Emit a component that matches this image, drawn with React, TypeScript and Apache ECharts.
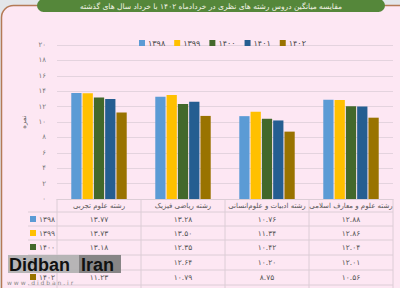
import React, { useEffect, useRef } from "react";
import * as echarts from "echarts";

const categories = [
  "رشته علوم تجربی",
  "رشته ریاضی فیزیک",
  "رشته ادبیات و علوم‌انسانی",
  "رشته علوم و معارف اسلامی",
];
const years = ["1398", "1399", "1400", "1401", "1402"];
const v1398 = [13.77, 13.28, 10.76, 12.88];
const v1399 = [13.73, 13.5, 11.34, 12.86];
const v1400 = [13.18, 12.35, 10.42, 12.04];
const v1401 = [13.0, 12.64, 10.2, 12.01];
const v1402 = [11.23, 10.79, 8.75, 10.56];
const seriesValues = [v1398, v1399, v1400, v1401, v1402];
const colors = ["#5B9BD5", "#FFC000", "#43682B", "#255E91", "#997300"];
const titleText =
  "مقایسه میانگین دروس رشته های نظری در خردادماه ۱۴۰۲ با خرداد سال های گذشته";
const yName = "نمره";

const toFa = (s: string | number) =>
  String(s).replace(/[0-9]/g, (d) => "۰۱۲۳۴۵۶۷۸۹"[Number(d)]);

const FONT = "DejaVu Sans";

export default function App() {
  const ref = useRef<HTMLDivElement>(null);
  useEffect(() => {
    document.body.style.margin = "0";
    if (!ref.current) return;
    const chart = echarts.init(ref.current, null, { renderer: "svg" });

    const gridLeft = 57;
    const gridRight = 393;
    const gridTop = 45;
    const gridBottom = 199;
    const catW = (gridRight - gridLeft) / categories.length;
    const rowCenters = [219, 233, 247, 262, 277];
    const lineColor = "#dccdd6";

    const extraAxes = seriesValues.map((vals, r) => ({
      type: "category" as const,
      data: categories,
      position: "bottom" as const,
      offset: rowCenters[r] - gridBottom - 4,
      axisLine: { show: false },
      axisTick: { show: false },
      splitLine: { show: false },
      axisLabel: {
        margin: 0,
        fontSize: 7.5,
        fontFamily: FONT,
        color: "#555",
        interval: 0,
        formatter: (_v: string, i: number) => toFa(vals[i].toFixed(2)),
      },
    }));

    const graphics: any[] = [];
    graphics.push({
      type: "rect",
      z: -10,
      shape: { x: 1.5, y: 5.5, width: 430, height: 320, r: 12 },
      style: { fill: "#fde7f3", stroke: "#b47a56", lineWidth: 1.5 },
      silent: true,
    });
    graphics.push({
      type: "rect",
      z: 5,
      shape: { x: 37, y: -1, width: 348, height: 13, r: 6.5 },
      style: { fill: "#55873a" },
    });
    graphics.push({
      type: "text",
      z: 6,
      x: 211,
      y: 6,
      style: {
        text: titleText,
        fill: "#f4f4e8",
        font: `7.5px "${FONT}"`,
        align: "center",
        verticalAlign: "middle",
      },
    });
    const hLines = [212, 226, 240, 255, 270, 285];
    hLines.forEach((y) => {
      graphics.push({
        type: "line",
        shape: { x1: 28, y1: y, x2: gridRight, y2: y },
        style: { stroke: lineColor, lineWidth: 1 },
      });
    });
    for (let i = 0; i <= categories.length; i++) {
      const x = gridLeft + catW * i;
      graphics.push({
        type: "line",
        shape: { x1: x, y1: gridBottom, x2: x, y2: 290 },
        style: { stroke: lineColor, lineWidth: 1 },
      });
    }
    years.forEach((yr, r) => {
      graphics.push({
        type: "rect",
        shape: { x: 30, y: rowCenters[r] - 3, width: 6, height: 6 },
        style: { fill: colors[r] },
      });
      graphics.push({
        type: "text",
        x: 55,
        y: rowCenters[r],
        style: {
          text: toFa(yr),
          fill: "#555",
          font: `7.5px "${FONT}"`,
          align: "right",
          verticalAlign: "middle",
        },
      });
    });
    // watermark
    graphics.push({
      type: "rect",
      z: 20,
      shape: { x: 8, y: 255, width: 71, height: 18 },
      style: { fill: "rgba(175,175,175,0.9)" },
    });
    graphics.push({
      type: "rect",
      z: 20,
      shape: { x: 79, y: 255, width: 42, height: 18 },
      style: { fill: "rgba(125,125,125,0.92)" },
    });
    graphics.push({
      type: "text",
      z: 21,
      x: 9,
      y: 264.5,
      style: {
        text: "Didban",
        fill: "#111",
        font: `bold 18px "Liberation Sans"`,
        verticalAlign: "middle",
      },
    });
    graphics.push({
      type: "text",
      z: 21,
      x: 81,
      y: 264.5,
      style: {
        text: "Iran",
        fill: "#111",
        font: `bold 18px "Liberation Sans"`,
        verticalAlign: "middle",
      },
    });
    graphics.push({
      type: "text",
      z: 21,
      x: 7,
      y: 282,
      style: {
        text: "w w w . d i d b a n . i r",
        fill: "#888",
        font: `6px "${FONT}"`,
        verticalAlign: "middle",
      },
    });

    chart.setOption({
      animation: false,
      backgroundColor: "#e3e6ea",
      color: colors,
      legend: {
        top: 34,
        left: 134,
        itemWidth: 6,
        itemHeight: 6,
        itemGap: 9,
        icon: "rect",
        textStyle: { fontSize: 8, fontFamily: FONT, color: "#444", padding: [0, 0, 0, -2] },
        formatter: (n: string) => toFa(n),
        data: years,
      },
      grid: {
        left: gridLeft,
        right: 400 - gridRight,
        top: gridTop,
        bottom: 288 - gridBottom,
      },
      xAxis: [
        {
          type: "category",
          data: categories,
          position: "bottom",
          axisLine: { show: true, lineStyle: { color: lineColor } },
          axisTick: { show: false },
          axisLabel: {
            margin: 3,
            fontSize: 7,
            fontFamily: FONT,
            color: "#555",
            interval: 0,
          },
        },
        ...extraAxes,
      ],
      yAxis: {
        type: "value",
        min: 0,
        max: 20,
        interval: 2,
        name: yName,
        nameLocation: "middle",
        nameGap: 23,
        nameRotate: 90,
        nameTextStyle: { fontSize: 7, fontFamily: FONT, color: "#666" },
        axisLine: { show: false },
        axisTick: { show: false },
        axisLabel: {
          fontSize: 7,
          fontFamily: FONT,
          color: "#777",
          margin: 11,
          formatter: (v: number) => toFa(v),
        },
        splitLine: { lineStyle: { color: "#e4d3de", width: 1 } },
      },
      series: seriesValues.map((vals, i) => ({
        name: years[i],
        type: "bar",
        xAxisIndex: 0,
        data: vals,
        barGap: "10%",
        barCategoryGap: "34%",
        itemStyle: { color: colors[i] },
      })),
      graphic: graphics,
    });
    return () => chart.dispose();
  }, []);
  return <div ref={ref} style={{ width: 400, height: 288 }} />;
}
